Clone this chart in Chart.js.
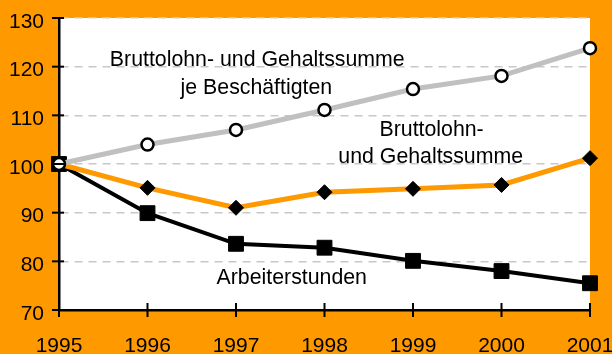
<!DOCTYPE html>
<html>
<head>
<meta charset="utf-8">
<script src="https://cdn.jsdelivr.net/npm/chart.js@4/dist/chart.umd.min.js"></script>
<style>
  html, body { margin: 0; padding: 0; background: #ff9900; }
  #wrap { width: 612px; height: 354px; }
</style>
</head>
<body>
<div id="wrap"><canvas id="c" width="612" height="354"></canvas></div>
<script>
// Index values, 1995 = 100
const years = ['1995', '1996', '1997', '1998', '1999', '2000', '2001'];
const lohnJeBeschaeftigten = [100, 104, 107, 111.1, 115.4, 118.1, 123.8];
const lohnSumme = [100, 95.1, 91, 94.2, 94.9, 95.7, 101.2];
const arbeiterstunden = [100, 89.9, 83.6, 82.8, 80.1, 78, 75.5];
const yTicks = [70, 80, 90, 100, 110, 120, 130];

// Text labels placed in data coordinates: [text, x index, y value]
const notes = [
  ['Bruttolohn- und Gehaltssumme', 2.24, 121.4],
  ['je Beschäftigten', 2.23, 115.6],
  ['Bruttolohn-', 4.21, 107],
  ['und Gehaltssumme', 4.2, 101.4],
  ['Arbeiterstunden', 2.63, 76.6]
];

const FONT = '"Liberation Sans", Arial, sans-serif';

const backdrop = {
  id: 'backdrop',
  beforeDraw(chart) {
    const { ctx, chartArea: a } = chart;
    ctx.save();
    ctx.fillStyle = '#ff9900';
    ctx.fillRect(0, 0, chart.width, chart.height);
    ctx.fillStyle = '#ffffff';
    ctx.fillRect(a.left, a.top, a.right - a.left, a.bottom - a.top);
    ctx.restore();
  },
  afterDatasetsDraw(chart) {
    const { ctx, chartArea: a, scales: { x, y } } = chart;
    ctx.save();
    // axis ticks crossing the axis lines
    ctx.strokeStyle = '#000';
    ctx.lineWidth = 2;
    yTicks.forEach(v => {
      const py = y.getPixelForValue(v);
      ctx.beginPath(); ctx.moveTo(a.left - 7, py); ctx.lineTo(a.left + 5, py); ctx.stroke();
    });
    years.forEach((_, i) => {
      const px = x.getPixelForValue(i);
      ctx.beginPath(); ctx.moveTo(px, a.bottom - 7); ctx.lineTo(px, a.bottom + 7); ctx.stroke();
    });
    // text labels
    ctx.fillStyle = '#000';
    ctx.font = '21.3px ' + FONT;
    ctx.textAlign = 'center';
    ctx.textBaseline = 'middle';
    notes.forEach(([t, xi, yv]) => {
      ctx.fillText(t, x.getPixelForValue(xi), y.getPixelForValue(yv));
    });
    ctx.restore();
  }
};

new Chart(document.getElementById('c'), {
  type: 'line',
  data: {
    labels: years,
    datasets: [
      {
        data: lohnJeBeschaeftigten,
        borderColor: '#c0c0c0', borderWidth: 5,
        pointStyle: 'circle', pointRadius: 6,
        pointBackgroundColor: '#ffffff', pointBorderColor: '#000000', pointBorderWidth: 2.5,
        clip: false, tension: 0
      },
      {
        data: lohnSumme,
        borderColor: '#ff9900', borderWidth: 5,
        pointStyle: 'rectRot', pointRadius: 7.5,
        pointBackgroundColor: '#000000', pointBorderColor: '#000000', pointBorderWidth: 1,
        clip: false, tension: 0
      },
      {
        data: arbeiterstunden,
        borderColor: '#000000', borderWidth: 4,
        pointStyle: 'rect', pointRadius: 10.5,
        pointBackgroundColor: '#000000', pointBorderColor: '#000000', pointBorderWidth: 1,
        clip: false, tension: 0
      }
    ]
  },
  options: {
    responsive: false,
    animation: false,
    devicePixelRatio: 1,
    layout: { padding: { top: 18, right: 22, left: 0, bottom: 0 } },
    plugins: { legend: { display: false }, tooltip: { enabled: false } },
    scales: {
      x: {
        type: 'category',
        offset: false,
        grid: { display: false, drawTicks: false },
        border: { color: '#000', width: 2.5 },
        ticks: {
          color: '#000', font: { family: FONT, size: 21 },
          padding: 24, maxRotation: 0, autoSkip: false
        },
        afterFit(s) { s.height = 44; s.paddingLeft = 0; s.paddingRight = 0; }
      },
      y: {
        min: 70, max: 130,
        afterBuildTicks(s) { s.ticks = yTicks.map(v => ({ value: v })); },
        grid: { color: '#c8c8c8', lineWidth: 1.5, drawTicks: false },
        border: { color: '#000', width: 2.5, dash: [8, 6] },
        ticks: {
          color: '#000', font: { family: FONT, size: 21 },
          padding: 15, labelOffset: 4
        },
        afterFit(s) { s.width = 59; s.paddingTop = 0; s.paddingBottom = 0; }
      }
    }
  },
  plugins: [backdrop]
});
</script>
</body>
</html>
